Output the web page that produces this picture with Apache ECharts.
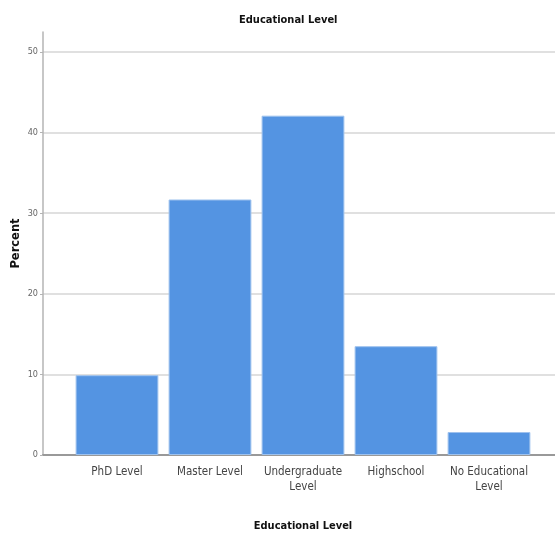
<!DOCTYPE html>
<html><head><meta charset="utf-8">
<script src="https://cdn.jsdelivr.net/npm/echarts@6/dist/echarts.min.js"></script>
<style>html,body{margin:0;padding:0;background:#fff}#c{width:555px;height:540px}</style>
</head><body><div id="c"></div>
<script>
const categories = ['PhD Level', 'Master Level', 'Undergraduate\nLevel', 'Highschool', 'No Educational\nLevel'];
const percentValues = [9.9, 31.7, 42.1, 13.5, 2.85];
const yTicks = [0, 10, 20, 30, 40, 50];

const NARROW = "'Liberation Sans Narrow', 'Arial Narrow', 'DejaVu Sans Condensed', sans-serif";
const chart = echarts.init(document.getElementById('c'), null, {renderer: 'canvas'});
chart.setOption({
  animation: false,
  backgroundColor: '#ffffff',
  title: {
    text: 'Educational Level', left: 234, top: 10,
    textStyle: {fontFamily: NARROW, fontSize: 11, fontWeight: 'bold', color: '#111'}
  },
  grid: [
    {left: 43, right: 0, top: 32, bottom: 85},
    {left: 43, right: 0, top: 52, bottom: 85},
    {left: 70.5, right: 19.5, top: 52, bottom: 85}
  ],
  xAxis: [
    {gridIndex: 0, type: 'value', min: 0, max: 1, axisLabel: {show: false}, axisTick: {show: false}, splitLine: {show: false},
     axisLine: {show: true, lineStyle: {color: '#999999', width: 2}}},
    {gridIndex: 1, type: 'value', min: 0, max: 1, show: false},
    {gridIndex: 2, type: 'category', data: categories,
     axisLine: {show: false}, axisTick: {show: false},
     axisLabel: {fontFamily: NARROW, fontSize: 11.5, color: '#444', margin: 10, lineHeight: 15, interval: 0},
     name: 'Educational Level', nameLocation: 'middle', nameGap: 66,
     nameTextStyle: {fontFamily: NARROW, fontSize: 11, fontWeight: 'bold', color: '#111'}}
  ],
  yAxis: [
    {gridIndex: 0, type: 'value', min: 0, max: 52.5, axisLabel: {show: false}, axisTick: {show: false}, splitLine: {show: false},
     axisLine: {show: true, lineStyle: {color: '#b4b4b4', width: 1.5}},
     name: 'Percent', nameLocation: 'middle', nameRotate: 90, nameGap: 21,
     nameTextStyle: {fontFamily: "'DejaVu Sans', Verdana, sans-serif", fontSize: 11.5, fontWeight: 'bold', color: '#111'}},
    {gridIndex: 1, type: 'value', min: yTicks[0], max: yTicks[yTicks.length - 1], interval: 10,
     axisLine: {show: false},
     axisTick: {show: true, length: 3, lineStyle: {color: '#b4b4b4'}},
     axisLabel: {fontFamily: NARROW, fontSize: 9, color: '#666', margin: 5},
     splitLine: {show: true, lineStyle: {color: '#d6d6d6', width: 1.5}}},
    {gridIndex: 2, type: 'value', min: yTicks[0], max: yTicks[yTicks.length - 1], show: false}
  ],
  series: [{
    type: 'bar', xAxisIndex: 2, yAxisIndex: 2, data: percentValues,
    barCategoryGap: '11%',
    itemStyle: {color: '#5494e2', borderColor: '#9ec2ee', borderWidth: 1}
  }]
});
</script></body></html>
